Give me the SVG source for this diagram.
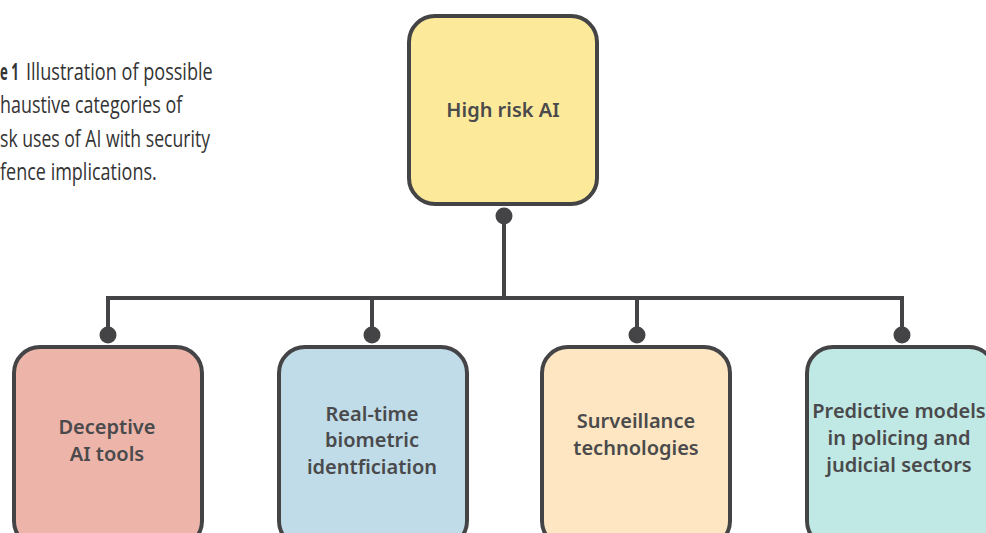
<svg xmlns="http://www.w3.org/2000/svg" width="986" height="533" viewBox="0 0 986 533">
<style>
.box{stroke:#444446;stroke-width:4}
.lbl{font-family:"Noto Sans","Open Sans",sans-serif;font-weight:600;font-size:20px;fill:#4a4a4c;text-anchor:middle}
.cap{font-family:"Open Sans","Liberation Sans",sans-serif;font-size:23px;fill:#333333}
.conn line,.conn path{stroke:#444446;stroke-width:4;fill:none}
.dot{fill:#444446}
</style>
<rect width="986" height="533" fill="#ffffff"/>
<g id="caption">
<text class="cap" transform="translate(0,80) scale(0.75,1)" font-weight="700" textLength="25" lengthAdjust="spacingAndGlyphs">e 1</text>
<text class="cap" transform="translate(26,80) scale(0.75,1)" textLength="249" lengthAdjust="spacingAndGlyphs">Illustration of possible</text>
<text class="cap" transform="translate(0,113) scale(0.75,1)" textLength="243" lengthAdjust="spacingAndGlyphs">haustive categories of</text>
<text class="cap" transform="translate(0,147) scale(0.75,1)" textLength="280" lengthAdjust="spacingAndGlyphs">sk uses of AI with security</text>
<text class="cap" transform="translate(0,180) scale(0.75,1)" textLength="209" lengthAdjust="spacingAndGlyphs">fence implications.</text>
</g>
<g id="connectors" class="conn">
<line x1="504" y1="216" x2="504" y2="298"/>
<path d="M108 335 V298 H902 V335"/>
<line x1="372" y1="298" x2="372" y2="335"/>
<line x1="637" y1="298" x2="637" y2="335"/>
<circle class="dot" cx="504" cy="216" r="8.5"/>
<circle class="dot" cx="108" cy="335" r="8.5"/>
<circle class="dot" cx="372" cy="335" r="8.5"/>
<circle class="dot" cx="637" cy="335" r="8.5"/>
<circle class="dot" cx="902" cy="335" r="8.5"/>
</g>
<g id="high-risk-ai">
<rect class="box" x="409" y="16" width="188" height="188" rx="26" fill="#fde99a"/>
<text class="lbl" x="503" y="117">High risk AI</text>
</g>
<g id="deceptive">
<rect class="box" x="14" y="347" width="188" height="200" rx="26" fill="#edb4a9"/>
<text class="lbl" x="107" y="434">Deceptive</text>
<text class="lbl" x="107" y="461">AI tools</text>
</g>
<g id="biometric">
<rect class="box" x="279" y="347" width="188" height="200" rx="26" fill="#bfdce8"/>
<text class="lbl" x="372" y="421">Real-time</text>
<text class="lbl" x="372" y="447">biometric</text>
<text class="lbl" x="372" y="474">identficiation</text>
</g>
<g id="surveillance">
<rect class="box" x="542" y="347" width="188" height="200" rx="26" fill="#fde6c1"/>
<text class="lbl" x="636" y="428">Surveillance</text>
<text class="lbl" x="636" y="455">technologies</text>
</g>
<g id="predictive">
<rect class="box" x="807" y="347" width="188" height="200" rx="26" fill="#c0e8e4"/>
<text class="lbl" x="899" y="418">Predictive models</text>
<text class="lbl" x="899" y="445">in policing and</text>
<text class="lbl" x="899" y="472">judicial sectors</text>
</g>
</svg>
